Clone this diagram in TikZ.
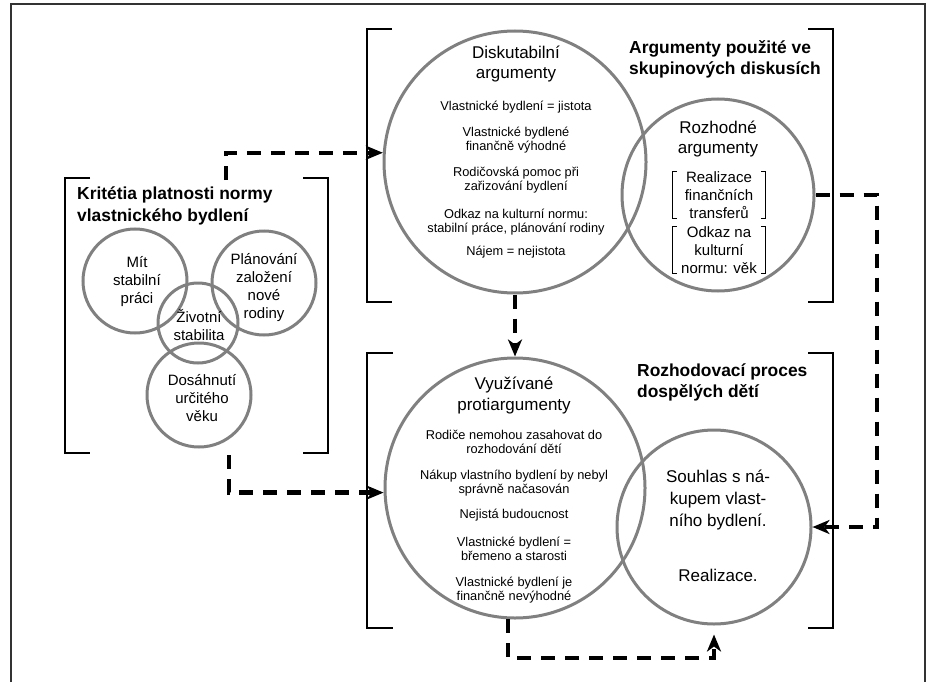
\documentclass[tikz,border=0pt]{standalone}
\usepackage{fontspec}
\setmainfont{Liberation Sans}
\usetikzlibrary{arrows.meta,calc}
\begin{document}
\begin{tikzpicture}[x=1pt,y=-1pt,
  circ/.style={circle, draw=gray, line width=3pt, inner sep=0pt},
  brk/.style={line width=2pt, black},
  dsh/.style={line width=4.3pt, dash pattern=on 14pt off 10pt, black},
  arr/.style={-{Stealth[length=17pt,width=14pt,inset=5pt]}},
  small/.style={font=\fontsize{12.8}{14}\selectfont, align=center, inner sep=0pt},
  mid/.style={font=\fontsize{15}{18}\selectfont, align=center, inner sep=0pt},
  big/.style={font=\fontsize{17}{20.5}\selectfont, align=center, inner sep=0pt},
  ttl/.style={font=\fontsize{17.4}{21.5}\selectfont\bfseries, align=left, inner sep=0pt, anchor=west},
  ibr/.style={line width=0.9pt, black}
]
\useasboundingbox (0,0) rectangle (936,682);
% frame
\draw[line width=1.5pt, black!80] (11,682) -- (11,4) -- (925,4) -- (925,682);
% brackets
\draw[brk] (392,29) -- (367,29) -- (367,302) -- (392,302);
\draw[brk] (808,29) -- (833,29) -- (833,302) -- (808,302);
\draw[brk] (393,353) -- (367,353) -- (367,628) -- (393,628);
\draw[brk] (808,353) -- (833,353) -- (833,628) -- (808,628);
\draw[brk] (90,178) -- (65,178) -- (65,453) -- (90,453);
\draw[brk] (303,178) -- (328,178) -- (328,453) -- (303,453);
% circles
\node[circ, minimum size=262pt] (D) at (515,162) {};
\node[circ, minimum size=192pt] (R) at (718,195) {};
\node[circ, minimum size=260pt] (V) at (515,488) {};
\node[circ, minimum size=194pt] (C) at (714,527) {};
\node[circ, minimum size=104pt] (M) at (135,281) {};
\node[circ, minimum size=104pt] (P) at (264,283) {};
\node[circ, minimum size=80pt] (Z) at (198,323) {};
\node[circ, minimum size=104pt] (A) at (199,395) {};
% titles
\node[ttl] (t1) at (629,59.5) {Argumenty použité ve\\skupinových diskusích};
\node[ttl] (t2) at (637,382.5) {Rozhodovací proces\\dospělých dětí};
\node[ttl] (t3) at (77,206) {Kritétia platnosti normy\\vlastnického bydlení};
% Diskutabilni
\node[big] (d0) at (516,64) {Diskutabilní\\argumenty};
\node[small] (d1) at (516,107) {Vlastnické bydlení = jistota};
\node[small] (d2) at (516,140.5) {Vlastnické bydlené\\finančně výhodné};
\node[small] (d3) at (516,180) {Rodičovská pomoc při\\zařizování bydlení};
\node[small] (d4) at (516,222.5) {Odkaz na kulturní normu:\\stabilní práce, plánování rodiny};
\node[small] (d5) at (516,252) {Nájem = nejistota};
% Rozhodne
\node[big] (r0) at (718,139) {Rozhodné\\argumenty};
\node[mid, minimum width=92pt, inner ysep=0pt] (r1) at (719,195) {Realizace\\finančních\\transferů};
\node[mid, minimum width=92pt, inner ysep=0pt] (r2) at (719,250) {Odkaz na\\kulturní\\normu: věk};
\draw[ibr] ($(r1.north west)+(4,0)$) -- (r1.north west) -- (r1.south west) -- ++(4,0);
\draw[ibr] ($(r1.north east)+(-4,0)$) -- (r1.north east) -- (r1.south east) -- ++(-4,0);
\draw[ibr] ($(r2.north west)+(4,0)$) -- (r2.north west) -- (r2.south west) -- ++(4,0);
\draw[ibr] ($(r2.north east)+(-4,0)$) -- (r2.north east) -- (r2.south east) -- ++(-4,0);
% Vyuzivane
\node[big] (v0) at (514,395.5) {Využívané\\protiargumenty};
\node[small] (v1) at (514,442) {Rodiče nemohou zasahovat do\\rozhodování dětí};
\node[small] (v2) at (514,483.5) {Nákup vlastního bydlení by nebyl\\správně načasován};
\node[small] (v3) at (514,515) {Nejistá budoucnost};
\node[small] (v4) at (514,548.5) {Vlastnické bydlení =\\břemeno a starosti};
\node[small] (v5) at (514,590) {Vlastnické bydlení je\\finančně nevýhodné};
% Souhlas
\node[big, font=\fontsize{17}{22}\selectfont] (c1) at (718,500) {Souhlas s ná-\\kupem vlast-\\ního bydlení.};
\node[big] (c2) at (718,575) {Realizace.};
% left cluster
\node[mid] (m1) at (137,282) {Mít\\stabilní\\práci};
\node[mid] (p1) at (264,288) {Plánování\\založení\\nové\\rodiny};
\node[mid] (z1) at (199,325) {Životní\\stabilita};
\node[mid] (a1) at (202,398) {Dosáhnutí\\určitého\\věku};
% dashed connectors
\coordinate (k1) at (226,180);
\coordinate (k2) at (229,455);
\coordinate (k3) at (877,0);
\coordinate (k4) at (0,658);
\draw[dsh,arr] (k1) |- (D.176);
\draw[dsh,arr] (k2) |- (V.182);
\draw[dsh,arr] (D.south) -- (V.north);
\draw[dsh,arr] (R.east) -| (k3 |- C.east) -- (C.east);
\draw[dsh,arr] (V.267) |- (k4 -| C.south) -- ($(C.south)+(0,9)$);
\end{tikzpicture}
\end{document}
